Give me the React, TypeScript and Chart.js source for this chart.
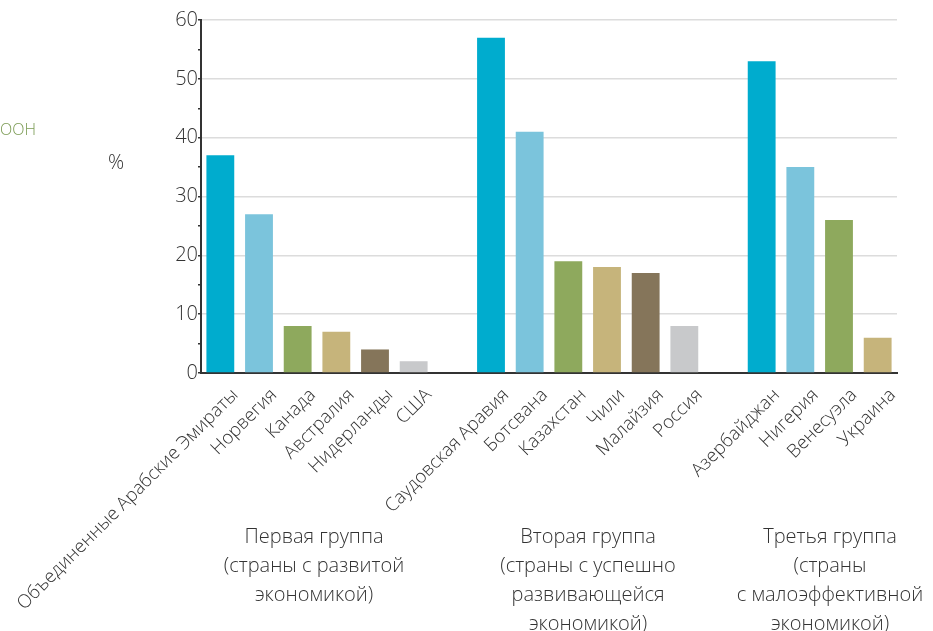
import React, { useEffect, useRef } from "react";
import { Chart, registerables } from "chart.js";

Chart.register(...registerables);

const categories = [
  "Объединенные Арабские Эмираты", "Норвегия", "Канада", "Австралия", "Нидерланды", "США",
  "",
  "Саудовская Аравия", "Ботсвана", "Казахстан", "Чили", "Малайзия", "Россия",
  "",
  "Азербайджан", "Нигерия", "Венесуэла", "Украина",
];

const values: (number | null)[] = [
  37, 27, 8, 7, 4, 2,
  null,
  57, 41, 19, 18, 17, 8,
  null,
  53, 35, 26, 6,
];

const BLUE = "#00acce";
const LIGHTBLUE = "#7bc4dc";
const GREEN = "#8ea95d";
const TAN = "#c6b47b";
const BROWN = "#85755a";
const GREY = "#c8c9cb";

const barColors = [
  BLUE, LIGHTBLUE, GREEN, TAN, BROWN, GREY,
  "transparent",
  BLUE, LIGHTBLUE, GREEN, TAN, BROWN, GREY,
  "transparent",
  BLUE, LIGHTBLUE, GREEN, TAN,
];

const groupLabels: string[][] = [
  ["Первая группа", "(страны с развитой", "экономикой)"],
  ["Вторая группа", "(страны с успешно", "развивающейся", "экономикой)"],
  ["Третья группа", "(страны", "с малоэффективной", "экономикой)"],
];
const groupCenters = [314, 588, 830];

const sideNote = "ООН";
const unitLabel = "%";

const FONT = "'Open Sans', 'Noto Sans', sans-serif";

const annotations = {
  id: "annotations",
  afterDraw(chart: any) {
    const ctx = chart.ctx;
    const xs = chart.scales.x;
    ctx.save();
    // rotated category labels
    ctx.fillStyle = "#333333";
    ctx.font = `300 18.5px ${FONT}`;
    ctx.textAlign = "right";
    ctx.textBaseline = "middle";
    categories.forEach((label, i) => {
      if (!label) return;
      const x = xs.getPixelForValue(i);
      ctx.save();
      ctx.translate(x + 15, xs.top + 19);
      ctx.rotate(-Math.PI / 4);
      ctx.fillText(label, 0, 0);
      ctx.restore();
    });
    // group labels
    ctx.textAlign = "center";
    ctx.textBaseline = "middle";
    ctx.font = `300 20px ${FONT}`;
    groupLabels.forEach((lines, gi) => {
      lines.forEach((line, li) => {
        ctx.fillText(line, groupCenters[gi], 537 + li * 29);
      });
    });
    ctx.fillStyle = "#7a9a52";
    ctx.font = `300 16px ${FONT}`;
    ctx.textAlign = "left";
    ctx.fillText(sideNote, 0, 130);
    ctx.fillStyle = "#333333";
    ctx.font = `300 20px ${FONT}`;
    ctx.fillText(unitLabel, 108, 163);
    ctx.restore();
  },
};

export default function App() {
  const ref = useRef<HTMLCanvasElement | null>(null);
  useEffect(() => {
    if (!ref.current) return;
    const chart = new Chart(ref.current, {
      type: "bar",
      data: {
        labels: categories,
        datasets: [
          {
            data: values,
            backgroundColor: barColors,
            barPercentage: 0.72,
            categoryPercentage: 1,
          },
        ],
      },
      options: {
        animation: false,
        responsive: false,
        layout: { padding: { top: 20, right: 36, left: 0, bottom: 0 } },
        plugins: { legend: { display: false }, tooltip: { enabled: false } },
        scales: {
          x: {
            grid: { display: false, drawTicks: false },
            border: { display: true, color: "#333333", width: 2 },
            ticks: { display: false },
            afterFit(scale: any) {
              scale.height = 258;
            },
          },
          y: {
            min: 0,
            max: 60,
            ticks: {
              stepSize: 5,
              padding: 0,
              color: "#333333",
              font: { family: FONT, size: 20, weight: 300 as any },
              callback: (v: any) => (Number(v) % 10 === 0 ? String(v) : ""),
            },
            grid: {
              color: (c: any) => (c.tick && c.tick.value % 10 === 0 ? "#dcdcdc" : "transparent"),
              tickColor: "#333333",
              tickLength: 3,
              lineWidth: 1.5,
            },
            border: { display: true, color: "#333333", width: 2 },
            afterFit(scale: any) {
              scale.width = 201;
            },
          },
        },
      },
      plugins: [annotations],
    });
    return () => chart.destroy();
  }, []);
  return (
    <div style={{ position: "absolute", left: 0, top: 0, width: 933, height: 631, background: "#fff" }}>
      <canvas ref={ref} width={933} height={631} />
    </div>
  );
}
